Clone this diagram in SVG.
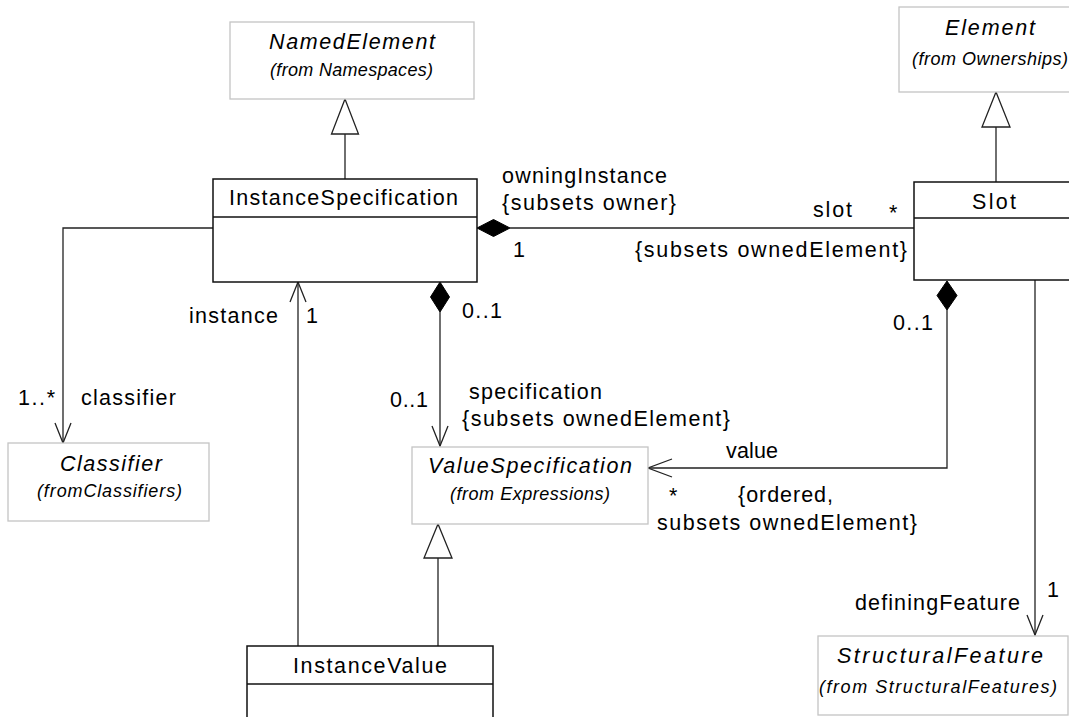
<svg xmlns="http://www.w3.org/2000/svg" width="1069" height="717" viewBox="0 0 1069 717">
<style>
.t{font-family:"Liberation Sans",Arial,sans-serif;font-size:21.5px;fill:#000}
.i{font-style:italic}
.s{font-family:"Liberation Sans",Arial,sans-serif;font-size:18px;font-style:italic;fill:#000}
.gbox{fill:#fff;stroke:#c4c4c4;stroke-width:1.3}
.cbox{fill:#fff;stroke:#111;stroke-width:1.5}
.ln{fill:none;stroke:#222;stroke-width:1.3}
.dia{fill:#000;stroke:#000;stroke-width:1}
.tri{fill:#fff;stroke:#222;stroke-width:1.3}
</style>
<rect width="1069" height="717" fill="#fff"/>
<g id="connectors">
<line class="ln" x1="510" y1="228" x2="914" y2="228"/>
<polyline class="ln" points="213,228 63,228 63,443"/>
<polyline class="ln" points="55,423 63,443 71,423"/>
<line class="ln" x1="298" y1="646" x2="298" y2="282"/>
<polyline class="ln" points="290,302 298,282 306,302"/>
<line class="ln" x1="440" y1="312" x2="440" y2="446"/>
<polyline class="ln" points="432,426 440,446 448,426"/>
<polyline class="ln" points="947,310 947,468 648,468"/>
<polyline class="ln" points="672,459 648,468 672,477"/>
<line class="ln" x1="1035" y1="280" x2="1035" y2="635"/>
<polyline class="ln" points="1027,615 1035,635 1043,615"/>
<line class="ln" x1="345" y1="179" x2="345" y2="134"/>
<polygon class="tri" points="345,99 331.5,134 358.5,134"/>
<line class="ln" x1="996" y1="182" x2="996" y2="127"/>
<polygon class="tri" points="996,92 982,127 1010,127"/>
<line class="ln" x1="438" y1="646" x2="438" y2="558"/>
<polygon class="tri" points="438,524 424,558 452,558"/>
<polygon class="dia" points="477,228 493.5,219.5 510,228 493.5,236.5"/>
<polygon class="dia" points="440,282 449.5,297 440,312 430.5,297"/>
<polygon class="dia" points="947,281 957,295.5 947,310 937,295.5"/>
<text class="t" x="502" y="183" textLength="165" lengthAdjust="spacing">owningInstance</text>
<text class="t" x="502" y="210" textLength="174" lengthAdjust="spacing">{subsets owner}</text>
<text class="t" x="813" y="217" textLength="39" lengthAdjust="spacing">slot</text>
<text class="t" x="889" y="220">*</text>
<text class="t" x="513" y="257">1</text>
<text class="t" x="635" y="257" textLength="272" lengthAdjust="spacing">{subsets ownedElement}</text>
<text class="t" x="189" y="323" textLength="89" lengthAdjust="spacing">instance</text>
<text class="t" x="306" y="323">1</text>
<text class="t" x="462" y="318" textLength="40" lengthAdjust="spacing">0..1</text>
<text class="t" x="18" y="405" textLength="37" lengthAdjust="spacing">1..*</text>
<text class="t" x="81" y="405" textLength="95" lengthAdjust="spacing">classifier</text>
<text class="t" x="390" y="407" textLength="38" lengthAdjust="spacing">0..1</text>
<text class="t" x="469" y="399" textLength="133" lengthAdjust="spacing">specification</text>
<text class="t" x="462" y="426" textLength="268" lengthAdjust="spacing">{subsets ownedElement}</text>
<text class="t" x="726" y="458" textLength="52" lengthAdjust="spacing">value</text>
<text class="t" x="669" y="503">*</text>
<text class="t" x="738" y="502" textLength="95" lengthAdjust="spacing">{ordered,</text>
<text class="t" x="657" y="530" textLength="260" lengthAdjust="spacing">subsets ownedElement}</text>
<text class="t" x="893" y="330" textLength="40" lengthAdjust="spacing">0..1</text>
<text class="t" x="855" y="610" textLength="165" lengthAdjust="spacing">definingFeature</text>
<text class="t" x="1047" y="597">1</text>
</g>
<g id="NamedElement">
<rect class="gbox" x="230" y="22" width="244" height="77"/>
<text class="t i" x="269" y="49" textLength="166" lengthAdjust="spacing">NamedElement</text>
<text class="s" x="270" y="76" textLength="163" lengthAdjust="spacing">(from Namespaces)</text>
</g>
<g id="Element">
<rect class="gbox" x="899" y="7" width="194" height="85"/>
<text class="t i" x="945" y="35" textLength="90" lengthAdjust="spacing">Element</text>
<text class="s" x="912" y="65" textLength="156" lengthAdjust="spacing">(from Ownerships)</text>
</g>
<g id="InstanceSpecification">
<rect class="cbox" x="213" y="179" width="264" height="103"/>
<line class="cbox" x1="213" y1="217" x2="477" y2="217"/>
<text class="t" x="229" y="205" textLength="229" lengthAdjust="spacing">InstanceSpecification</text>
</g>
<g id="Slot">
<rect class="cbox" x="914" y="182" width="164" height="98"/>
<line class="cbox" x1="914" y1="218" x2="1078" y2="218"/>
<text class="t" x="972" y="209" textLength="44" lengthAdjust="spacing">Slot</text>
</g>
<g id="Classifier">
<rect class="gbox" x="8" y="443" width="201" height="78"/>
<text class="t i" x="60" y="471" textLength="102" lengthAdjust="spacing">Classifier</text>
<text class="s" x="37" y="497" textLength="145" lengthAdjust="spacing">(fromClassifiers)</text>
</g>
<g id="ValueSpecification">
<rect class="gbox" x="412" y="447" width="236" height="77"/>
<text class="t i" x="428" y="473" textLength="204" lengthAdjust="spacing">ValueSpecification</text>
<text class="s" x="450" y="500" textLength="160" lengthAdjust="spacing">(from Expressions)</text>
</g>
<g id="InstanceValue">
<rect class="cbox" x="247" y="646" width="246" height="90"/>
<line class="cbox" x1="247" y1="684" x2="493" y2="684"/>
<text class="t" x="293" y="673" textLength="154" lengthAdjust="spacing">InstanceValue</text>
</g>
<g id="StructuralFeature">
<rect class="gbox" x="818" y="636" width="250" height="79"/>
<text class="t i" x="837" y="663" textLength="206" lengthAdjust="spacing">StructuralFeature</text>
<text class="s" x="819" y="693" textLength="238" lengthAdjust="spacing">(from StructuralFeatures)</text>
</g>
</svg>
